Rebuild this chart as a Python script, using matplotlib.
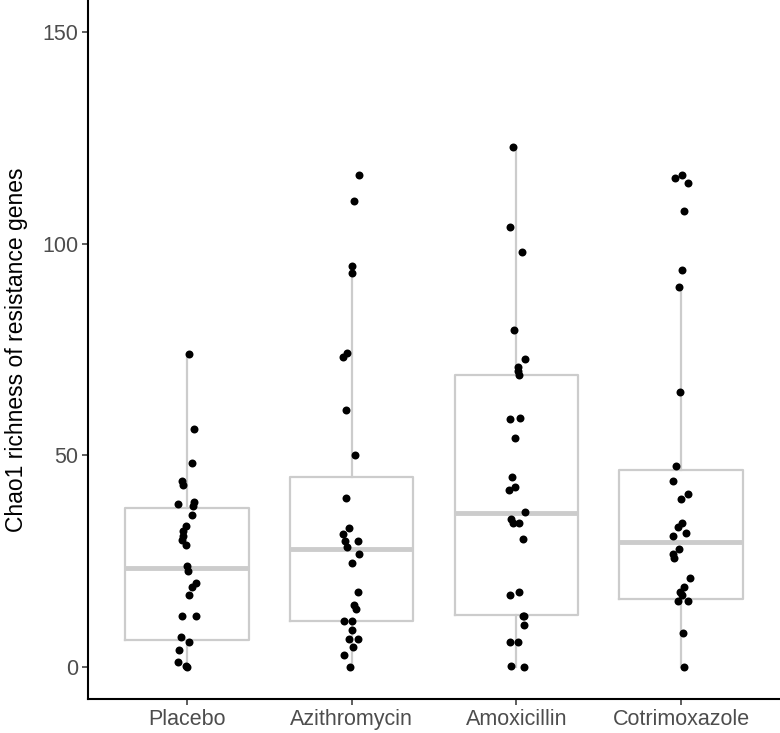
import numpy as np
import matplotlib
matplotlib.use('Agg')
import matplotlib.pyplot as plt

# groups on the x axis
groups = ['Placebo', 'Azithromycin', 'Amoxicillin', 'Cotrimoxazole']

# chao1 values, one list per group
placebo = [73.9, 56.3, 48.3, 43.9, 43.1, 38.9, 38.5, 38.1, 36.0, 33.3, 32.2, 30.9, 30.0,
           28.9, 24.0, 22.8, 19.9, 18.9, 17.0, 12.0, 12.0, 7.1, 6.0, 4.0, 1.2, 0.1, 0.2]
azithromycin = [116.1, 110.1, 94.7, 93.0, 74.1, 73.3, 60.7, 50.0, 40.0, 32.8, 31.5, 29.7,
                29.7, 28.4, 26.7, 24.7, 17.7, 14.7, 13.7, 10.8, 10.8, 8.7, 6.7, 6.7, 4.8,
                2.8, 0.0]
amoxicillin = [122.8, 103.8, 98.0, 79.7, 72.8, 70.8, 70.0, 68.9, 58.8, 58.5, 54.2, 45.0,
               42.5, 41.9, 36.7, 35.1, 34.1, 34.1, 30.3, 17.8, 17.0, 12.2, 12.2, 10.0, 5.9,
               5.9, 0.2, 0.0]
cotrimoxazole = [116.2, 115.6, 114.3, 107.7, 93.7, 89.8, 65.0, 47.4, 43.9, 41.0, 39.8, 34.1,
                 33.0, 31.8, 31.0, 27.9, 26.7, 25.9, 21.0, 18.9, 17.8, 17.0, 15.6, 15.6, 8.0,
                 0.1]
values = [placebo, azithromycin, amoxicillin, cotrimoxazole]

# box summaries as drawn in the reference
q1 = [6.4, 10.8, 12.4, 16.2]
median = [23.5, 28.0, 36.3, 29.5]
q3 = [37.5, 45.0, 68.9, 46.5]
whisker_lo = [0.0, 0.0, 0.0, 0.0]
whisker_hi = [73.9, 94.7, 122.8, 89.8]

box_col = '#CCCCCC'
text_col = '#4D4D4D'

plt.rcParams['font.family'] = ['Liberation Sans', 'DejaVu Sans']

fig = plt.figure(figsize=(7.8, 7.33), dpi=100)
ax = fig.add_axes([88 / 780, 34 / 733, 1 - 88 / 780, 1 - 34 / 733])

stats = []
for i, g in enumerate(groups):
    stats.append(dict(label=g, q1=q1[i], med=median[i], q3=q3[i],
                      whislo=whisker_lo[i], whishi=whisker_hi[i], fliers=[]))

pos = np.arange(1, len(groups) + 1)
ax.bxp(stats, positions=pos, widths=0.75, showcaps=False, showfliers=False,
       boxprops=dict(color=box_col, linewidth=1.6),
       whiskerprops=dict(color=box_col, linewidth=1.6),
       medianprops=dict(color=box_col, linewidth=3.5, solid_capstyle='butt'),
       zorder=1)

# jittered points (like geom_jitter)
rng = np.random.default_rng(7)
for i, v in enumerate(values):
    xj = pos[i] + rng.uniform(-0.055, 0.055, len(v))
    ax.scatter(xj, v, s=33, color='black', linewidths=0, zorder=3)

ax.set_xlim(0.4, 4.6)
ax.set_ylim(-7.5, 157.5)
ax.set_yticks([0, 50, 100, 150])
ax.set_xticks(pos)
ax.set_xticklabels(groups)

for s in ['top', 'right']:
    ax.spines[s].set_visible(False)
for s in ['left', 'bottom']:
    ax.spines[s].set_linewidth(1.5)
    ax.spines[s].set_color('black')

ax.tick_params(axis='both', length=4.5, width=1.1, color='#333333',
               labelsize=15.5, labelcolor=text_col, pad=2.5)
ax.set_ylabel('Chao1 richness of resistance genes', fontsize=16.5, color='black', labelpad=10)
ax.set_facecolor('white')

fig.savefig('out.png', dpi=100)
